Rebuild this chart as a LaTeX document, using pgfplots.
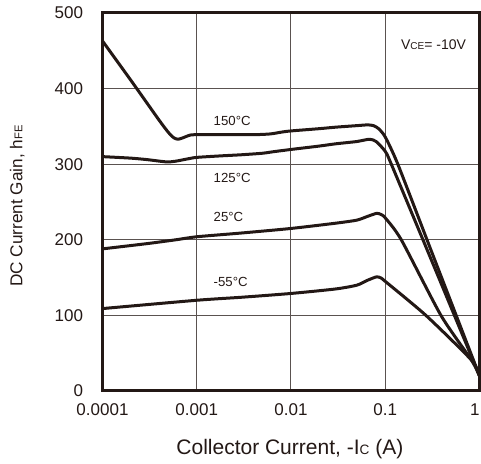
\documentclass[border=0pt]{standalone}
\usepackage{fontspec}
\setmainfont{Liberation Sans}
\usepackage{pgfplots}
\pgfplotsset{compat=1.18}
\definecolor{ink}{HTML}{231815}

\begin{document}
\begin{tikzpicture}
\begin{axis}[
  name=ax,
  xmode=log,
  width=188.5pt, height=189pt, scale only axis,
  xmin=1e-4, xmax=1, ymin=0, ymax=500,
  xtick={1e-4,1e-3,1e-2,1e-1,1},
  xticklabels={0.0001,0.001,0.01,0.1,\llap{1}},
  ytick={0,100,200,300,400,500},
  yticklabels={0,100,200,300,400,500},
  minor xtick={},
  major tick length=0pt, minor tick length=0pt,
  grid=major,
  major grid style={line width=0.5pt, color=ink!75},
  axis line style={line width=1.5pt, color=ink},
  tick label style={font=\fontsize{8.5}{10}\selectfont, color=ink},
  yticklabel style={xshift=-6.2pt},
  xticklabel style={yshift=-2.7pt},
  ylabel={DC Current Gain, h{\fontsize{5.6}{6}\selectfont FE}},
  ylabel style={at={(axis description cs:-0.226,0.489)}, anchor=center, font=\fontsize{8.6}{10}\selectfont, color=ink},
  xlabel={Collector Current, -I{\fontsize{6.8}{8}\selectfont C} (A)},
  xlabel style={at={(axis description cs:0.497,-0.169)}, anchor=base, font=\fontsize{10.5}{12}\selectfont, color=ink},
  clip=true,
]
% 150 C
\addplot[ink, line width=1.5pt, smooth, tension=0.4, line join=round, no markers] coordinates {(1e-4,463) (2e-4,411) (3e-4,380) (4e-4,358) (5e-4,342) (5.7e-4,335) (6.3e-4,333) (7e-4,334.5) (8.5e-4,338.5) (1e-3,339) (2e-3,339) (4e-3,339) (6e-3,340) (8e-3,342.5) (1e-2,344) (2e-2,347) (3e-2,349) (5e-2,351) (6.5e-2,352) (7.5e-2,351) (8.5e-2,347) (0.1,336) (0.136,300) (0.3,189) (0.55,104) (1,20)};
% 125 C
\addplot[ink, line width=1.5pt, smooth, tension=0.4, line join=round, no markers] coordinates {(1e-4,310) (2e-4,308) (3e-4,306) (4.8e-4,303) (6e-4,304) (8e-4,307) (1e-3,309) (1.8e-3,311) (3e-3,312.5) (5e-3,314.5) (6.5e-3,316.5) (1e-2,319.5) (2e-2,324) (3e-2,327) (5e-2,330) (6.8e-2,333) (8e-2,330) (0.1,317) (0.116,300) (0.3,177) (0.55,98) (1,20)};
% 25 C
\addplot[ink, line width=1.5pt, smooth, tension=0.4, line join=round, no markers] coordinates {(1e-4,188) (3e-4,195) (6e-4,200) (1e-3,204) (3e-3,209) (1e-2,215) (3e-2,222) (5e-2,226) (6.5e-2,231) (8.1e-2,235) (9e-2,233.5) (0.1,229) (0.148,200) (0.39,100) (0.82,41) (1,20)};
% -55 C
\addplot[ink, line width=1.5pt, smooth, tension=0.4, line join=round, no markers] coordinates {(1e-4,109) (1e-3,120) (3e-3,124) (1e-2,129) (3e-2,135) (5e-2,140) (6.5e-2,146.5) (8.1e-2,151) (9e-2,149.5) (0.1,145) (0.27,100) (0.82,41) (1,20)};

\node[anchor=west, inner sep=0pt, font=\fontsize{6.6}{8}\selectfont, color=ink] at (axis cs:0.0015,357) {150°C};
\node[anchor=west, inner sep=0pt, font=\fontsize{6.6}{8}\selectfont, color=ink] at (axis cs:0.0015,282) {125°C};
\node[anchor=west, inner sep=0pt, font=\fontsize{6.6}{8}\selectfont, color=ink] at (axis cs:0.0015,230) {25°C};
\node[anchor=west, inner sep=0pt, font=\fontsize{6.6}{8}\selectfont, color=ink] at (axis cs:0.0015,144) {-55°C};
\node[anchor=west, inner sep=0pt, font=\fontsize{7}{8}\selectfont, color=ink] at (axis cs:0.146,458) {V{\fontsize{5}{6}\selectfont CE}= -10V};
\end{axis}
\pgfresetboundingbox
\path[use as bounding box] ([xshift=-51.25pt,yshift=-36.5pt]ax.south west) rectangle ([xshift=0.75pt,yshift=6.5pt]ax.north east);
\end{tikzpicture}
\end{document}
